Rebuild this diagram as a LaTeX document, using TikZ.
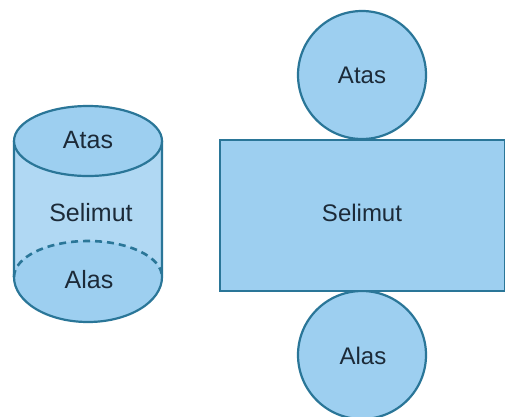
\documentclass[tikz,border=0pt]{standalone}
\usepackage{fontspec}
\setmainfont{Liberation Sans}
\definecolor{edge}{HTML}{2A7698}
\definecolor{fillb}{HTML}{9DCFF0}
\definecolor{bodyb}{HTML}{B0D8F3}
\definecolor{txt}{HTML}{1C2A38}
\tikzset{
 shapeline/.style={draw=edge,line width=2.2pt,fill=fillb},
 lbl/.style={font=\fontsize{24}{28}\selectfont,text=txt},
 lblb/.style={font=\fontsize{25}{28}\selectfont,text=txt}
}
\begin{document}
\begin{tikzpicture}[x=1pt,y=-1pt]
\useasboundingbox (0,0) rectangle (505,416);
\fill[white] (0,0) rectangle (505,416);
% cylinder
\fill[bodyb] (14,141) -- (14,277) arc[start angle=180,end angle=0,x radius=74,y radius=45] -- (162,141) -- cycle;
\fill[fillb] (14,277) arc[start angle=180,end angle=0,x radius=74,y radius=45] arc[start angle=0,end angle=-180,x radius=74,y radius=36] -- cycle;
\draw[edge,line width=2.2pt] (14,141) -- (14,277) arc[start angle=180,end angle=0,x radius=74,y radius=45] -- (162,141);
\draw[edge,line width=2.6pt,dash pattern=on 7pt off 5pt] (14,277) arc[start angle=180,end angle=360,x radius=74,y radius=36];
\draw[shapeline] (88,141) ellipse[x radius=74,y radius=35];
\node[lblb] (a1) at (88,140) {Atas};
\node[lblb] (s1) at (91,213) {Selimut};
\node[lblb] (b1) at (89,280) {Alas};
% net
\draw[shapeline] (362,75) circle[radius=64];
\draw[shapeline] (362,355) circle[radius=64];
\draw[shapeline] (220,140) rectangle (505,291);
\node[lbl] (a2) at (362,75) {Atas};
\node[lbl] (s2) at (362,213) {Selimut};
\node[lbl] (b2) at (363,356) {Alas};
\end{tikzpicture}
\end{document}
